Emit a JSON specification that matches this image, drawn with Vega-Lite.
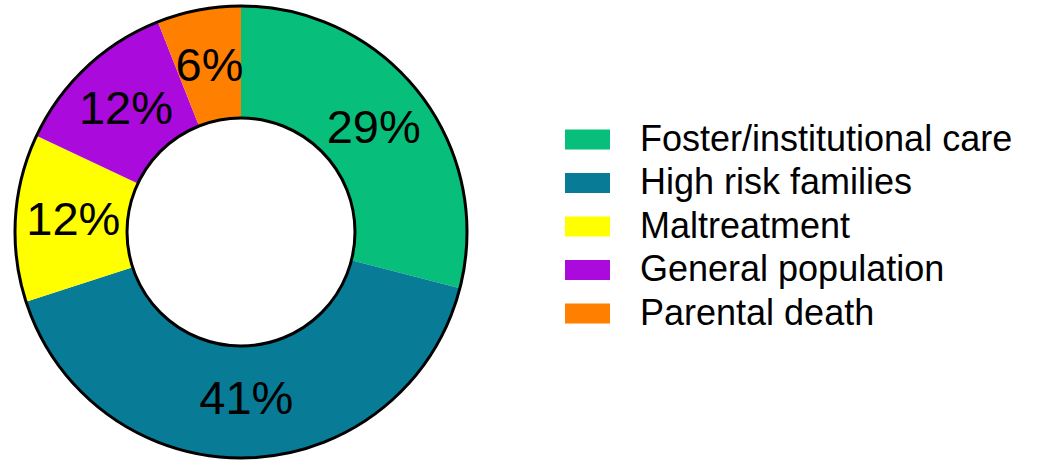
{
  "$schema": "https://vega.github.io/schema/vega-lite/v6.json",
  "width": 482,
  "height": 464,
  "padding": 0,
  "background": "white",
  "config": {"view": {"stroke": null}, "font": "Liberation Sans"},
  "resolve": {"scale": {"theta": "independent"}},
  "layer": [
    {
      "data": {
        "values": [
          {"group": "Foster/institutional care", "share": 0.29, "order": 1},
          {"group": "High risk families", "share": 0.41, "order": 2},
          {"group": "Maltreatment", "share": 0.12, "order": 3},
          {"group": "General population", "share": 0.12, "order": 4},
          {"group": "Parental death", "share": 0.06, "order": 5}
        ]
      },
      "layer": [
        {
          "mark": {"type": "arc", "radius": 226, "radius2": 114, "stroke": null},
          "encoding": {
            "theta": {"field": "share", "type": "quantitative", "stack": true},
            "order": {"field": "order", "type": "quantitative"},
            "color": {
              "field": "group",
              "type": "nominal",
              "sort": ["Foster/institutional care", "High risk families", "Maltreatment", "General population", "Parental death"],
              "scale": {
                "domain": ["Foster/institutional care", "High risk families", "Maltreatment", "General population", "Parental death"],
                "range": ["#07BF7A", "#087B96", "#FFFF00", "#AA0ADC", "#FF7F00"]
              },
              "legend": {
                "title": null,
                "orient": "none",
                "legendX": 565,
                "legendY": 117,
                "padding": 0,
                "symbolType": "M-1,-0.44H1V0.44H-1Z",
                "symbolSize": 2025,
                "symbolStrokeWidth": 0,
                "symbolOpacity": 1,
                "labelFont": "Liberation Sans",
                "labelFontSize": 36,
                "labelOffset": 30,
                "labelLimit": 600,
                "rowPadding": 2.5,
                "encode": {
                  "labels": {
                    "update": {
                      "fill": [
                        {"test": "datum.value === 'High risk families'", "value": "#454545"},
                        {"value": "#000000"}
                      ]
                    }
                  }
                }
              }
            }
          }
        },
        {
          "mark": {"type": "text", "radius": 168, "fontSize": 47, "font": "Liberation Sans", "color": "black"},
          "encoding": {
            "theta": {"field": "share", "type": "quantitative", "stack": true},
            "order": {"field": "order", "type": "quantitative"},
            "text": {"field": "share", "type": "quantitative", "format": ".0%"},
            "detail": {"field": "group"}
          }
        }
      ]
    },
    {
      "data": {"values": [{"ring": 1}]},
      "mark": {"type": "arc", "radius": 226, "radius2": 114, "fill": null, "stroke": "black", "strokeWidth": 3},
      "encoding": {
        "theta": {"field": "ring", "type": "quantitative"}
      }
    }
  ]
}
